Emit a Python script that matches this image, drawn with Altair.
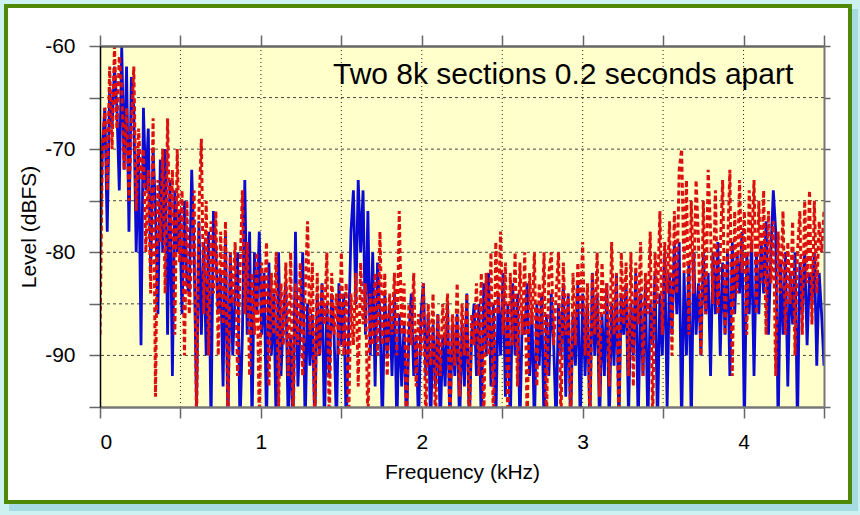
import altair as alt
import pandas as pd

# Frequency bins (kHz), 15 Hz apart
freq_khz = [round(i * 0.015, 3) for i in range(301)]

# Section 1 (solid blue), dBFS
level_a = [
    -80, -70, -66, -78, -64, -68, -62, -66, -74, -60,
    -72, -62, -78, -63, -66, -80, -70, -89, -66, -74,
    -68, -82, -70, -76, -86, -71, -80, -70, -88, -73,
    -92, -74, -80, -76, -86, -75, -83, -84, -72, -80,
    -95, -77, -88, -79, -90, -78, -97, -76, -80, -86,
    -82, -93, -78, -97, -80, -90, -84, -80, -97, -88,
    -73, -88, -78, -97, -80, -86, -78, -88, -82, -97,
    -81, -90, -84, -97, -80, -92, -86, -83, -97, -88,
    -97, -78, -93, -87, -80, -97, -85, -91, -86, -97,
    -84, -90, -83, -97, -85, -92, -84, -88, -97, -83,
    -89, -84, -97, -88, -78, -74, -85, -73, -80, -74,
    -88, -76, -90, -80, -93, -81, -86, -97, -84, -90,
    -85, -92, -84, -97, -86, -93, -87, -97, -88, -84,
    -92, -88, -97, -86, -83, -92, -86, -97, -87, -93,
    -86, -97, -88, -93, -85, -97, -87, -92, -86, -97,
    -87, -93, -84, -97, -88, -85, -92, -85, -97, -83,
    -90, -82, -93, -85, -97, -84, -90, -82, -94, -85,
    -97, -83, -90, -84, -97, -86, -88, -83, -92, -86,
    -97, -85, -91, -84, -97, -86, -92, -84, -89, -97,
    -85, -90, -83, -94, -84, -97, -86, -91, -83, -97,
    -84, -92, -85, -97, -82, -90, -84, -97, -86, -92,
    -83, -97, -85, -91, -82, -97, -84, -88, -83, -96,
    -85, -90, -82, -97, -84, -92, -83, -97, -85, -89,
    -82, -97, -84, -90, -80, -95, -82, -88, -79, -86,
    -79, -97, -82, -90, -81, -97, -80, -88, -83, -90,
    -80, -86, -82, -92, -80, -86, -79, -90, -81, -88,
    -80, -92, -79, -86, -80, -84, -78, -97, -80, -86,
    -79, -92, -80, -86, -79, -84, -77, -88, -80, -74,
    -78, -97, -81, -88, -80, -93, -82, -87, -80, -97,
    -81, -86, -80, -89, -82, -85, -80, -91, -82, -86,
    -91,
]

# Section 2, 0.2 s later (dashed red), dBFS
level_b = [
    -88, -70, -66, -74, -62, -70, -60, -68, -61, -64,
    -72, -66, -75, -68, -62, -76, -68, -73, -70, -80,
    -72, -84, -67, -94, -73, -79, -70, -84, -67, -80,
    -72, -88, -70, -81, -74, -90, -75, -86, -80, -74,
    -97, -76, -69, -86, -75, -90, -77, -84, -76, -90,
    -78, -87, -77, -97, -80, -85, -79, -92, -82, -74,
    -86, -79, -92, -82, -88, -80, -97, -81, -86, -79,
    -93, -82, -88, -80, -95, -83, -89, -81, -92, -80,
    -97, -83, -89, -81, -92, -84, -77, -88, -81, -97,
    -82, -90, -83, -87, -80, -97, -82, -88, -84, -90,
    -80, -90, -83, -97, -84, -89, -82, -93, -81, -87,
    -83, -97, -84, -89, -82, -90, -78, -89, -82, -92,
    -84, -88, -82, -90, -76, -88, -83, -97, -85, -89,
    -82, -93, -86, -90, -83, -97, -85, -91, -84, -97,
    -86, -92, -85, -89, -84, -97, -86, -91, -83, -94,
    -85, -90, -84, -97, -86, -89, -83, -92, -82, -97,
    -82, -90, -80, -97, -79, -86, -78, -88, -81, -97,
    -82, -89, -80, -93, -81, -88, -80, -97, -82, -87,
    -80, -93, -83, -88, -80, -97, -82, -80, -89, -84,
    -80, -97, -81, -88, -84, -97, -82, -89, -81, -86,
    -79, -90, -83, -97, -82, -88, -80, -94, -81, -86,
    -83, -93, -79, -88, -82, -97, -80, -87, -81, -92,
    -80, -93, -81, -87, -79, -92, -82, -86, -78, -97,
    -80, -85, -76, -88, -79, -84, -77, -90, -76, -84,
    -72, -70, -82, -73, -88, -75, -84, -73, -79, -90,
    -75, -86, -72, -78, -85, -74, -86, -80, -73, -88,
    -80, -72, -92, -76, -84, -73, -82, -76, -88, -74,
    -80, -73, -86, -75, -83, -74, -88, -76, -83, -77,
    -92, -78, -84, -76, -88, -79, -85, -77, -90, -80,
    -76, -88, -75, -83, -74, -87, -75, -84, -77, -80,
    -76,
]

x_ticks = [0, 0.5, 1, 1.5, 2, 2.5, 3, 3.5, 4, 4.5]
y_ticks = [-95, -90, -85, -80, -75, -70, -65, -60]
x_grid = [0.5, 1, 1.5, 2, 2.5, 3, 3.5, 4]
y_grid = [-90, -85, -80, -75, -70, -65]
title_text = "Two 8k sections 0.2 seconds apart"

FONT = "Liberation Sans"
W, H = 724, 361

df = pd.DataFrame({"f": freq_khz, "a": level_a, "b": level_b})

xs = alt.Scale(domain=[0, 4.5], nice=False, zero=False)
ys = alt.Scale(domain=[-95, -60], nice=False, zero=False)

one = alt.Data(values=[{"k": 0}])

shadow = alt.Chart(one).mark_rect(fill="#a6dbe3", stroke=None).encode(
    x=alt.value(-91), x2=alt.value(758), y=alt.value(-37), y2=alt.value(465)
)
frame = alt.Chart(one).mark_rect(fill="#ffffff", stroke="#4e8a08", strokeWidth=4).encode(
    x=alt.value(-94), x2=alt.value(750), y=alt.value(-40), y2=alt.value(456)
)
plotbg = alt.Chart(one).mark_rect(fill="#ffffcc").encode(
    x=alt.value(0), x2=alt.value(W), y=alt.value(0), y2=alt.value(H)
)

vgrid = alt.Chart(pd.DataFrame({"g": x_grid})).mark_rule(
    color="#222222", strokeWidth=1, strokeDash=[1, 3]
).encode(x=alt.X("g:Q", scale=xs, axis=None))
hgrid = alt.Chart(pd.DataFrame({"g": y_grid})).mark_rule(
    color="#444444", strokeWidth=1, strokeDash=[3, 3]
).encode(y=alt.Y("g:Q", scale=ys, axis=None))

blue = alt.Chart(df).mark_line(color="#0a0ad2", strokeWidth=2.8, clip=True).encode(
    x=alt.X("f:Q", scale=xs, title="Frequency (kHz)",
            axis=alt.Axis(orient="bottom", values=x_ticks, zindex=1,
                          labelExpr="datum.value % 1 == 0 ? toString(datum.value) : ''",
                          domainColor="#777777", domainWidth=2.5,
                          tickColor="#666666", tickSize=11, tickWidth=1.5,
                          labelPadding=13, titlePadding=9, grid=False)),
    y=alt.Y("a:Q", scale=ys, title="Level (dBFS)",
            axis=alt.Axis(orient="left", values=y_ticks, zindex=1,
                          labelExpr="datum.value % 10 == 0 && datum.value > -95 ? toString(datum.value) : ''",
                          domainColor="#000000", domainWidth=1.5,
                          tickColor="#666666", tickSize=11, tickWidth=1.5,
                          labelPadding=14, titlePadding=5, grid=False)),
)

red = alt.Chart(df).mark_line(color="#dd1010", strokeWidth=3, strokeDash=[5, 3], clip=True).encode(
    x=alt.X("f:Q", scale=xs, title=None,
            axis=alt.Axis(orient="top", values=x_ticks, labels=False, zindex=1,
                          domainColor="#666666", domainWidth=2.5,
                          tickColor="#666666", tickSize=11, tickWidth=1.5, grid=False)),
    y=alt.Y("b:Q", scale=ys, title=None,
            axis=alt.Axis(orient="right", values=y_ticks, labels=False, zindex=1,
                          domainColor="#777777", domainWidth=2,
                          tickColor="#666666", tickSize=6, tickWidth=1.5, grid=False)),
)

title = alt.Chart(alt.Data(values=[{"t": title_text}])).mark_text(
    align="left", baseline="middle", font=FONT, fontSize=30, color="#000000"
).encode(text="t:N", x=alt.value(233), y=alt.value(29))

chart = alt.layer(shadow, frame, plotbg, vgrid, hgrid, blue, red, title).resolve_axis(
    x="independent", y="independent"
).properties(
    width=W, height=H,
    autosize=alt.AutoSizeParams(type="none"),
    padding={"left": 100, "top": 46, "right": 36, "bottom": 108},
    background="#cdf1f1",
).configure_view(stroke=None).configure_axis(
    labelFont=FONT, titleFont=FONT, labelFontSize=21, titleFontSize=21,
    labelColor="#000000", titleColor="#000000", titleFontWeight="normal",
)

chart.save("out.html", embed_options={"renderer": "svg", "actions": False})
